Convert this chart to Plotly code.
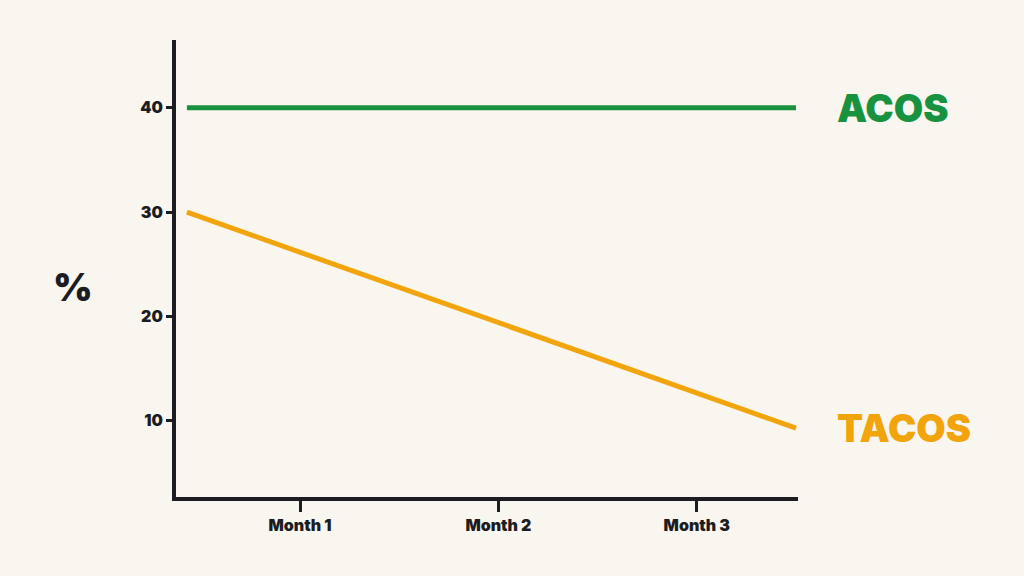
import plotly.graph_objects as go

# data
month_ticks = [1, 2, 3]
month_labels = ["Month 1", "Month 2", "Month 3"]
x_span = [0.43, 3.5]
acos = [40, 40]
tacos = [30, 9.3]
y_ticks = [10, 20, 30, 40]

green = "#18923f"
orange = "#f2a40c"
ink = "#1c1c22"
bg = "#f9f6ef"

fig = go.Figure()
fig.add_trace(go.Scatter(x=x_span, y=acos, mode="lines", name="ACOS",
                         line=dict(color=green, width=5)))
fig.add_trace(go.Scatter(x=x_span, y=tacos, mode="lines", name="TACOS",
                         line=dict(color=orange, width=5)))

# labels at the right end of each line
fig.add_annotation(x=x_span[-1], y=acos[-1], text="ACOS", showarrow=False,
                   xanchor="left", xshift=39,
                   font=dict(family="Inter", size=38, color=green, weight=900))
fig.add_annotation(x=x_span[-1], y=tacos[-1], text="TACOS", showarrow=False,
                   xanchor="left", xshift=39,
                   font=dict(family="Inter", size=38, color=orange, weight=900))
fig.add_annotation(x=-0.166, y=0.46, xref="paper", yref="paper", text="%",
                   showarrow=False, xanchor="center", yanchor="middle",
                   font=dict(family="Inter", size=38, color=ink, weight=900))

fig.update_layout(
    width=1024, height=576,
    margin=dict(l=176, r=226, t=40, b=79),
    paper_bgcolor=bg, plot_bgcolor=bg,
    showlegend=False,
    font=dict(family="Inter", color=ink),
)
fig.update_xaxes(
    range=[0.375, 3.51], tickvals=month_ticks, ticktext=month_labels,
    showgrid=False, zeroline=False,
    showline=True, linecolor=ink, linewidth=4,
    ticks="outside", ticklen=11, tickwidth=3, tickcolor=ink,
    tickfont=dict(family="Inter", size=16, color=ink, weight=900),
)
fig.update_yaxes(
    range=[2.7, 46.5], tickvals=y_ticks,
    showgrid=False, zeroline=False,
    showline=True, linecolor=ink, linewidth=4,
    ticks="outside", ticklen=6, tickwidth=3, tickcolor=ink,
    tickfont=dict(family="Inter", size=16, color=ink, weight=900),
)

# drop the browser's default page margin so the figure fills the window
fig.write_html("out.html", config={"displayModeBar": False},
               post_script="document.body.style.margin='0';document.body.style.overflow='hidden';")
